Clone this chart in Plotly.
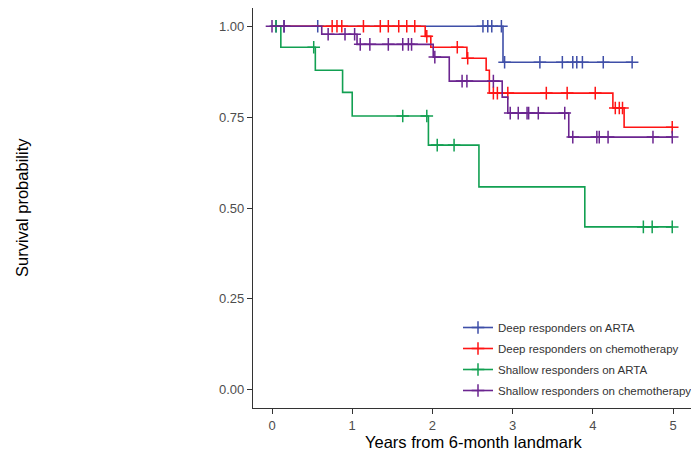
import plotly.graph_objects as go

# ---- data ----
group_names = ["Deep responders on ARTA", "Deep responders on chemotherapy",
               "Shallow responders on ARTA", "Shallow responders on chemotherapy"]
group_colors = ["#3F4FA8", "#FF1414", "#12A052", "#6B2590"]

deep_arta_t = [0, 2.88]
deep_arta_s = [1.0, 0.901]
deep_arta_end = 4.49
deep_arta_cens = [0.05, 0.15, 0.57, 2.63, 2.69, 2.74, 2.86, 2.90, 3.34, 3.62, 3.75, 3.80, 3.87, 4.13, 4.49]

deep_chemo_t = [0, 1.91, 1.98, 2.43, 2.67, 2.71, 4.25, 4.39]
deep_chemo_s = [1.0, 0.972, 0.942, 0.912, 0.879, 0.816, 0.775, 0.722]
deep_chemo_end = 5.0
deep_chemo_cens = [0.75, 0.81, 0.87, 1.14, 1.35, 1.45, 1.58, 1.68, 1.78, 1.93, 2.31, 2.44,
                   2.76, 2.81, 2.94, 3.42, 3.68, 4.03, 4.28, 4.33, 4.37, 4.99]

shallow_arta_t = [0, 0.11, 0.54, 0.88, 1.00, 1.95, 2.58, 3.90]
shallow_arta_s = [1.0, 0.942, 0.879, 0.818, 0.753, 0.673, 0.558, 0.448]
shallow_arta_end = 5.0
shallow_arta_cens = [0.05, 0.52, 1.63, 1.93, 2.06, 2.27, 4.63, 4.74, 4.99]

shallow_chemo_t = [0, 0.62, 1.06, 2.01, 2.21, 2.87, 2.94, 3.70]
shallow_chemo_s = [1.0, 0.978, 0.95, 0.915, 0.849, 0.805, 0.761, 0.695]
shallow_chemo_end = 5.0
shallow_chemo_cens = [0.0, 0.15, 0.70, 0.91, 1.03, 1.10, 1.22, 1.45, 1.63, 1.70, 1.74, 2.03,
                      2.37, 2.43, 2.76, 2.97, 3.07, 3.18, 3.20, 3.32, 3.65, 3.75, 4.05, 4.08,
                      4.19, 4.75, 4.99]

x_ticks = [0, 1, 2, 3, 4, 5]
y_ticks = [0.0, 0.25, 0.5, 0.75, 1.0]
y_ticklabels = ["0.00", "0.25", "0.50", "0.75", "1.00"]

groups = [
    (deep_arta_t, deep_arta_s, deep_arta_end, deep_arta_cens),
    (deep_chemo_t, deep_chemo_s, deep_chemo_end, deep_chemo_cens),
    (shallow_arta_t, shallow_arta_s, shallow_arta_end, shallow_arta_cens),
    (shallow_chemo_t, shallow_chemo_s, shallow_chemo_end, shallow_chemo_cens),
]


def surv_at(t, times, surv):
    val = surv[0]
    for ti, si in zip(times, surv):
        if ti <= t:
            val = si
    return val


fig = go.Figure()
LW = 1.6
for name, color, (t, s, end, cens) in zip(group_names, group_colors, groups):
    fig.add_trace(go.Scatter(x=list(t) + [end], y=list(s) + [s[-1]], mode="lines",
                             line=dict(color=color, width=LW, shape="hv"),
                             showlegend=False, hoverinfo="skip"))
    fig.add_trace(go.Scatter(x=cens, y=[surv_at(c, t, s) for c in cens], mode="markers",
                             marker=dict(symbol="cross-thin", size=9,
                                         line=dict(color=color, width=1.5)),
                             showlegend=False, hoverinfo="skip"))

for name, color in zip(group_names, group_colors):
    fig.add_trace(go.Scatter(x=[None], y=[None], mode="lines+markers", name=name,
                             legendgroup=name,
                             line=dict(color=color, width=LW),
                             marker=dict(symbol="cross-thin", size=9,
                                         line=dict(color=color, width=1.5))))

axis_common = dict(showline=True, linecolor="#333333", linewidth=1.1, ticks="outside",
                   ticklen=5, tickcolor="#333333", tickwidth=1.1, showgrid=False,
                   zeroline=False, tickfont=dict(family="Liberation Sans, Arial", size=13,
                                                 color="#4D4D4D"))

fig.update_layout(
    width=691, height=451, autosize=False,
    margin=dict(l=253, r=0, t=8, b=43, autoexpand=False),
    paper_bgcolor="white", plot_bgcolor="white",
    xaxis=dict(range=[-0.237, 5.224], tickvals=x_ticks, **axis_common),
    yaxis=dict(range=[-0.05, 1.05], tickvals=y_ticks, ticktext=y_ticklabels, **axis_common),
    legend=dict(x=(458 - 253) / 438, y=(408 - 313) / 400, xanchor="left", yanchor="top",
                bgcolor="rgba(0,0,0,0)", itemwidth=30, tracegroupgap=2,
                font=dict(family="Liberation Sans, Arial", size=11.5, color="#333333")),
    font=dict(family="Liberation Sans, Arial"),
    annotations=[
        dict(text="Years from 6-month landmark", xref="paper", yref="paper",
             x=(473 - 253) / 438, y=(408 - 442) / 400, xanchor="center", yanchor="middle",
             showarrow=False, font=dict(size=16.5, color="#000000")),
        dict(text="Survival probability", xref="paper", yref="paper",
             x=(22 - 253) / 438, y=0.5, xanchor="center", yanchor="middle",
             textangle=-90, showarrow=False, font=dict(size=16.5, color="#000000")),
    ],
)

fig.write_html("out.html", config={"responsive": False})
